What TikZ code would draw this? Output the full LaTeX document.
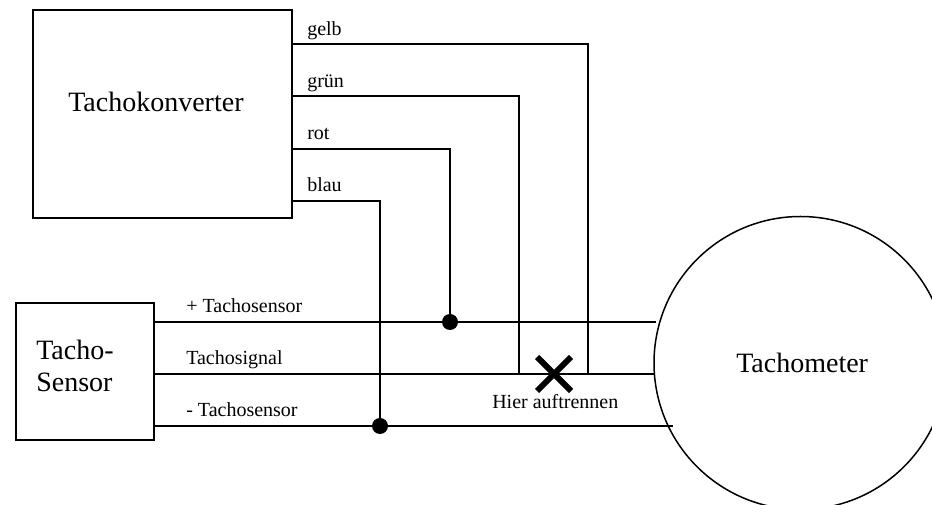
\documentclass[tikz,border=0pt]{standalone}
\usepackage{fontspec}
\setmainfont{Liberation Serif}
\tikzset{x=0.75pt,y=-0.75pt,
  wire/.style={line width=1.5pt*0.75,line cap=butt},
  big/.style={font=\fontsize{21}{24}\selectfont,inner sep=0pt},
  small/.style={font=\fontsize{15}{18}\selectfont,inner sep=0pt,anchor=base west},
  dot/.style={circle,fill=black,inner sep=0pt,minimum size=12pt}}
\begin{document}
\begin{tikzpicture}
\useasboundingbox (0,0) rectangle (932,505);
\clip (0,0) rectangle (932,505);
\draw[wire] (33,10) rectangle (292,218);
\draw[wire] (16,303) rectangle (154,440);
\node[big,anchor=base west] (tk) at (68,112) {Tachokonverter};
\node[big,anchor=base west] (ts1) at (36,360) {Tacho-};
\node[big,anchor=base west] (ts2) at (36,392) {Sensor};
\draw[wire] (654,363) arc[start angle=180,delta angle=360,radius=146.5];
\node[big,anchor=base west] (tm) at (736,373) {Tachometer};
\coordinate (g0) at (292,44); \coordinate (g1) at (588,44); \coordinate (g2) at (588,374);
\coordinate (r0) at (292,96); \coordinate (r1) at (519,96); \coordinate (r2) at (519,374);
\coordinate (o0) at (292,149); \coordinate (o1) at (450,149);
\coordinate (b0) at (292,201); \coordinate (b1) at (380,201);
\coordinate (p0) at (154,322); \coordinate (p1) at (656,322);
\coordinate (s0) at (154,374); \coordinate (s1) at (655,374);
\coordinate (m0) at (154,426); \coordinate (m1) at (673,426);
\draw[wire] (g0)--(g1)--(g2);
\draw[wire] (r0)--(r1)--(r2);
\draw[wire] (p0)--(p1);
\draw[wire] (s0)--(s1);
\draw[wire] (m0)--(m1);
\node[dot] (d1) at (450,322) {};
\node[dot] (d2) at (380,426) {};
\draw[wire] (o0)--(o1)--(d1);
\draw[wire] (b0)--(b1)--(d2);
\node[small] (l1) at (307,36) {gelb};
\node[small] (l2) at (307,88) {grün};
\node[small] (l3) at (307,140) {rot};
\node[small] (l4) at (307,192) {blau};
\node[small] (l5) at (186,313) {+ Tachosensor};
\node[small] (l6) at (186,365) {Tachosignal};
\node[small] (l7) at (186,417) {- Tachosensor};
\node[small] (l8) at (492,409) {Hier auftrennen};
\coordinate (x1) at (537,357); \coordinate (x2) at (571,391);
\coordinate (x3) at (571,357); \coordinate (x4) at (537,391);
\draw[line width=4.5pt] (x1)--(x2) (x3)--(x4);
\end{tikzpicture}
\end{document}
